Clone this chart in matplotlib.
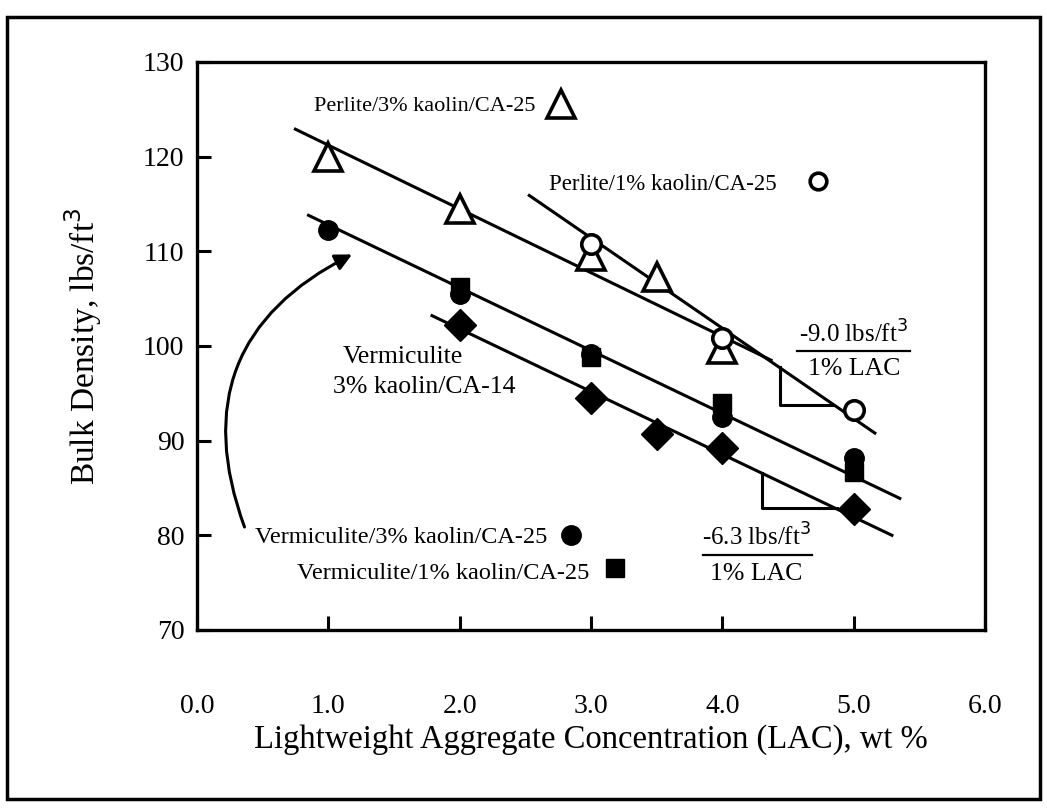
import matplotlib.pyplot as plt
from matplotlib.patches import FancyArrowPatch, Rectangle

plt.rcParams["font.family"] = ["Liberation Serif", "DejaVu Serif"]

lac_perlite3 = [1.0, 2.0, 3.0, 3.5, 4.0]
bd_perlite3 = [120.0, 114.5, 109.5, 107.3, 99.7]

lac_perlite1 = [3.0, 4.0, 5.0]
bd_perlite1 = [110.8, 100.8, 93.2]

lac_verm3 = [1.0, 2.0, 3.0, 4.0, 5.0]
bd_verm3 = [112.3, 105.5, 99.2, 92.5, 88.2]

lac_verm1 = [2.0, 3.0, 4.0, 5.0]
bd_verm1 = [106.2, 98.8, 94.0, 86.7]

lac_verm14 = [2.0, 3.0, 3.5, 4.0, 5.0]
bd_verm14 = [102.2, 94.5, 90.7, 89.2, 82.8]

# trend line end points
fit_perlite3_x = [0.75, 4.37]
fit_perlite3_y = [122.9, 98.5]
fit_perlite1_x = [2.53, 5.16]
fit_perlite1_y = [115.9, 90.8]
fit_verm_x = [0.85, 5.35]
fit_verm_y = [113.8, 83.9]
fit_verm14_x = [1.79, 5.29]
fit_verm14_y = [103.2, 80.0]

# slope triangles
tri_upper_x = [4.44, 4.44, 4.84]
tri_upper_y = [97.8, 93.8, 93.8]
tri_lower_x = [4.30, 4.30, 4.87]
tri_lower_y = [86.6, 82.9, 82.9]

fig = plt.figure(figsize=(10.47, 8.09), dpi=100)
ax = fig.add_axes([0.188, 0.2213, 0.753, 0.7021])

lw = 2.2
ax.plot(fit_perlite3_x, fit_perlite3_y, color="black", lw=lw)
ax.plot(fit_perlite1_x, fit_perlite1_y, color="black", lw=lw)
ax.plot(fit_verm_x, fit_verm_y, color="black", lw=lw)
ax.plot(fit_verm14_x, fit_verm14_y, color="black", lw=lw)
ax.plot(tri_upper_x, tri_upper_y, color="black", lw=lw)
ax.plot(tri_lower_x, tri_lower_y, color="black", lw=lw)

ax.plot(lac_verm14, bd_verm14, linestyle="none", marker="D", ms=16,
        color="black")
ax.plot(lac_verm1, bd_verm1, linestyle="none", marker="s", ms=13,
        color="black")
ax.plot(lac_verm3, bd_verm3, linestyle="none", marker="o", ms=14,
        color="black")
ax.plot(lac_perlite3, bd_perlite3, linestyle="none", marker="^", ms=20,
        mfc="white", mec="black", mew=2.6)
ax.plot(lac_perlite1, bd_perlite1, linestyle="none", marker="o", ms=14,
        mfc="white", mec="black", mew=2.6)

# labels with their marker keys
ax.text(2.58, 125.3, "Perlite/3% kaolin/CA-25", fontsize=16, ha="right", va="center")
ax.plot([2.77], [125.6], marker="^", ms=20, mfc="white", mec="black", mew=2.6)
ax.text(4.41, 117.1, "Perlite/1% kaolin/CA-25", fontsize=16.5, ha="right", va="center")
ax.plot([4.73], [117.4], marker="o", ms=12, mfc="white", mec="black", mew=2.6)
ax.text(2.67, 79.8, "Vermiculite/3% kaolin/CA-25", fontsize=17.5, ha="right", va="center")
ax.plot([2.85], [80.0], marker="o", ms=14, color="black")
ax.text(2.99, 76.0, "Vermiculite/1% kaolin/CA-25", fontsize=17.5, ha="right", va="center")
ax.plot([3.18], [76.5], marker="s", ms=13, color="black")
ax.text(1.11, 98.8, "Vermiculite", fontsize=18.5, ha="left", va="center")
ax.text(1.04, 95.7, "3% kaolin/CA-14", fontsize=18.5, ha="left", va="center")

ax.text(5.0, 101.3, "-9.0 lbs/ft$^3$", fontsize=18, ha="center", va="center")
ax.plot([4.57, 5.43], [99.5, 99.5], color="black", lw=1.6)
ax.text(5.0, 97.6, "1% LAC", fontsize=18.5, ha="center", va="center")
ax.text(4.26, 79.8, "-6.3 lbs/ft$^3$", fontsize=18, ha="center", va="center")
ax.plot([3.85, 4.68], [77.9, 77.9], color="black", lw=1.6)
ax.text(4.26, 75.9, "1% LAC", fontsize=18.5, ha="center", va="center")

arrow = FancyArrowPatch((0.37, 80.6), (1.2, 109.8),
                        connectionstyle="arc3,rad=-0.45",
                        arrowstyle="-|>,head_length=10,head_width=5",
                        color="black", lw=2.2)
ax.add_patch(arrow)

ax.set_xlim(0, 6)
ax.set_ylim(70, 130)
ax.set_xticks([0, 1, 2, 3, 4, 5, 6])
ax.set_xticklabels(["0.0", "1.0", "2.0", "3.0", "4.0", "5.0", "6.0"])
ax.set_yticks([70, 80, 90, 100, 110, 120, 130])
ax.tick_params(direction="in", length=10, width=2.2, labelsize=20)
ax.tick_params(axis="x", pad=46)
ax.tick_params(axis="y", pad=9)
for s in ax.spines.values():
    s.set_linewidth(2.4)

ax.set_xlabel("Lightweight Aggregate Concentration (LAC), wt %", fontsize=23.5, labelpad=4)
ax.set_ylabel("Bulk Density, lbs/ft$^3$", fontsize=24, labelpad=28)

fig.patches.append(Rectangle((7 / 1047, 1 - 799 / 809), 1033 / 1047, 782 / 809,
                             transform=fig.transFigure, fill=False,
                             edgecolor="black", lw=2.5))

fig.savefig("out.png", dpi=100)
